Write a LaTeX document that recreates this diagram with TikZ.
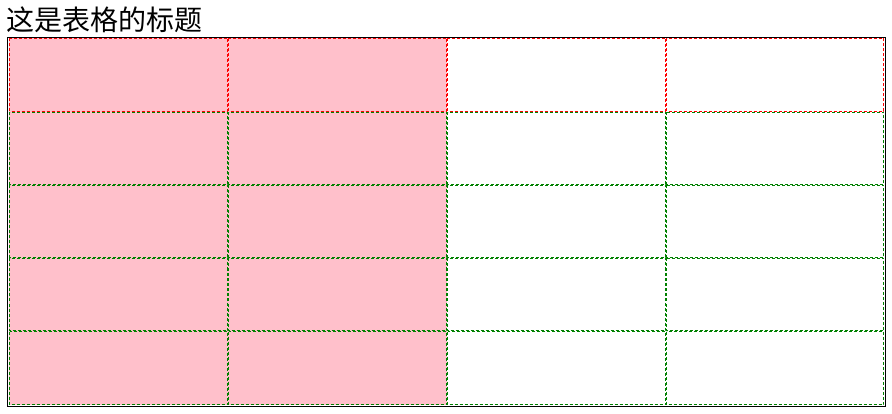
\documentclass[tikz,border=0pt]{standalone}
\usepackage{fontspec}
\newfontfamily\cjk{Noto Sans CJK SC}
\definecolor{cellpink}{HTML}{FFC0CB}
\definecolor{hdrred}{HTML}{FF0000}
\definecolor{bodygreen}{HTML}{008000}
\tikzset{
  cellline/.style={line width=1pt, dash pattern=on 3pt off 2pt},
  hdrcell/.style={cellline, draw=hdrred},
  bodycell/.style={cellline, draw=bodygreen},
  outerframe/.style={draw=black, line width=1pt},
  titletext/.style={anchor=base west, inner sep=0pt, font=\cjk\fontsize{28}{32}\selectfont}
}
\begin{document}
\begin{tikzpicture}[x=1pt,y=-1pt]
\useasboundingbox (0,0) rectangle (892,414);
% pink fill of first two columns
\fill[cellpink] (9,38) rectangle (447,405);
% cells
\def\xs{{9,228,447,666,884}}
\def\ys{{38,112,185,258,331,405}}
\foreach \c in {0,1,2,3}{
  \foreach \r in {0,1,2,3,4}{
    \pgfmathsetmacro{\xa}{\xs[\c]+0.5}
    \pgfmathsetmacro{\xb}{\xs[\c+1]-0.5}
    \pgfmathsetmacro{\ya}{\ys[\r]+0.5}
    \pgfmathsetmacro{\yb}{\ys[\r+1]-0.5}
    \ifnum\r=0
      \draw[hdrcell] (\xa,\ya) rectangle (\xb,\yb);
    \else
      \draw[bodycell] (\xa,\ya) rectangle (\xb,\yb);
    \fi
  }
}
% outer frame
\draw[outerframe] (7.5,37.5) rectangle (885.5,406.5);
% title
\node[titletext] (title) at (6,31) {这是表格的标题};
\end{tikzpicture}
\end{document}
